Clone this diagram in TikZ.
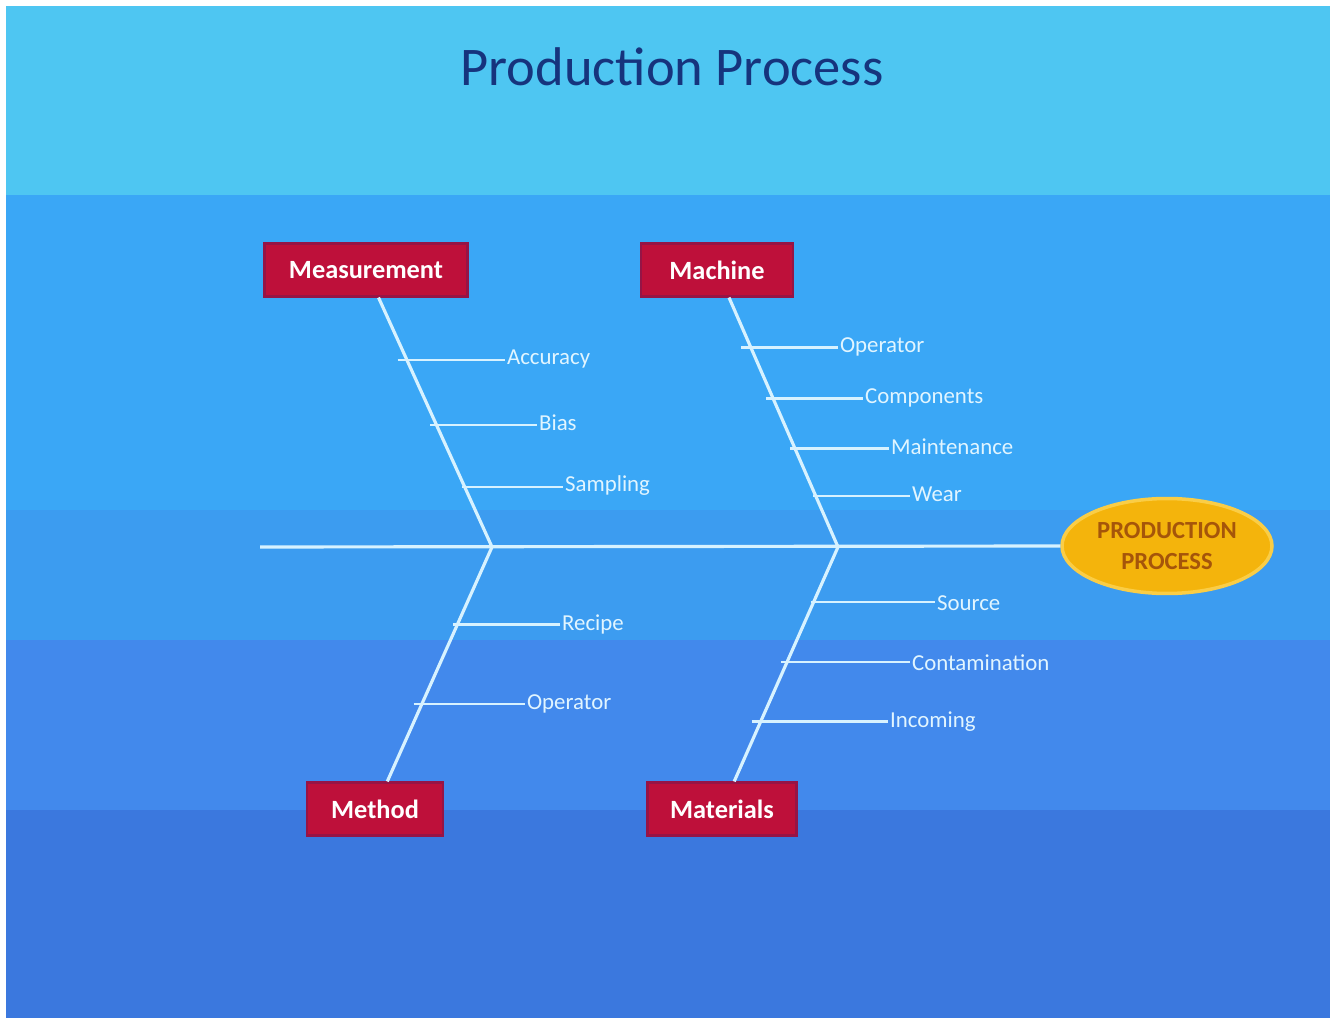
\documentclass[tikz,border=0pt]{standalone}
\usepackage{fontspec}
\setmainfont{Carlito}
\usetikzlibrary{shapes.geometric}
\definecolor{skytop}{RGB}{78,198,242}
\definecolor{bandA}{RGB}{58,167,246}
\definecolor{bandB}{RGB}{60,156,240}
\definecolor{bandC}{RGB}{66,137,236}
\definecolor{bandD}{RGB}{59,120,222}
\definecolor{causered}{RGB}{190,16,58}
\definecolor{causeedge}{RGB}{150,20,70}
\definecolor{boneline}{RGB}{215,242,255}
\definecolor{twigtext}{RGB}{225,245,255}
\definecolor{effectfill}{RGB}{244,180,12}
\definecolor{effectedge}{RGB}{250,205,70}
\definecolor{effecttext}{RGB}{165,85,10}
\definecolor{titleblue}{RGB}{22,52,125}

\begin{document}
\begin{tikzpicture}
  [x=0.02cm,y=-0.02cm,
   cause/.style={rectangle,fill=causered,draw=causeedge,line width=1.2pt,minimum height=1.06cm,text=white,font=\bfseries\fontsize{15}{17}\selectfont},
   twiglabel/.style={anchor=west,inner sep=1pt,text=twigtext,font=\fontsize{13}{15}\selectfont},
   bone/.style={draw=boneline,line width=1.8pt},
   twig/.style={draw=boneline,line width=1.4pt}]
 % page and background bands
 \fill[white] (0,0) rectangle (1336,1023);
 \useasboundingbox (0,0) rectangle (1336,1023);
 \fill[skytop] (6,6) rectangle (1330,195);
 \fill[bandA] (6,195) rectangle (1330,510);
 \fill[bandB] (6,510) rectangle (1330,640);
 \fill[bandC] (6,640) rectangle (1330,810);
 \fill[bandD] (6,810) rectangle (1330,1018);

 \node[text=titleblue,font=\fontsize{31}{34}\selectfont] (title) at (672,67) {Production Process};

 % causes and effect
 \node[cause,minimum width=4.06cm] (meas) at (366,270) {Measurement};
 \node[cause,minimum width=3.04cm] (mach) at (717,270) {Machine};
 \node[cause,minimum width=2.72cm] (meth) at (375,809) {Method};
 \node[cause,minimum width=2.98cm] (matl) at (722,809) {Materials};
 \node[ellipse,fill=effectfill,draw=effectedge,line width=2pt,minimum width=4.2cm,minimum height=1.9cm,inner sep=0pt,
       text=effecttext,align=center,font=\bfseries\fontsize{14}{17.5}\selectfont] (effect) at (1167,546) {PRODUCTION\\PROCESS};

 \coordinate (tail) at (260,547);
 \coordinate (j1) at (492,547);
 \coordinate (j2) at (838,547);

 \draw[bone] (tail) -- (effect.west);
 \foreach \from/\to in {meas/j1,meth/j1,mach/j2,matl/j2}
    \draw[bone] (\from) -- (\to);

 % points on the bones
 \path (meas.south) -- (j1) coordinate[pos=.25] (a1) coordinate[pos=.51] (a2) coordinate[pos=.76] (a3);
 \path (mach.south) -- (j2) coordinate[pos=.2] (b1) coordinate[pos=.405] (b2) coordinate[pos=.605] (b3) coordinate[pos=.795] (b4);
 \path (meth.north) -- (j1) coordinate[pos=.67] (c1) coordinate[pos=.33] (c2);
 \path (matl.north) -- (j2) coordinate[pos=.765] (d1) coordinate[pos=.51] (d2) coordinate[pos=.255] (d3);

 % sub-causes
 \node[twiglabel] (acc) at (505,359) {Accuracy};
 \node[twiglabel] (bias) at (537,423) {Bias};
 \node[twiglabel] (samp) at (563,486) {Sampling};
 \node[twiglabel] (oper) at (838,347) {Operator};
 \node[twiglabel] (comp) at (863,398) {Components};
 \node[twiglabel] (maint) at (889,447) {Maintenance};
 \node[twiglabel] (wear) at (910,494) {Wear};
 \node[twiglabel] (recipe) at (560,624) {Recipe};
 \node[twiglabel] (opm) at (525,704) {Operator};
 \node[twiglabel] (src) at (935,603) {Source};
 \node[twiglabel] (cont) at (910,663) {Contamination};
 \node[twiglabel] (inc) at (888,722) {Incoming};

 \foreach \from/\to in {a1/acc,a2/bias,a3/samp,b1/oper,b2/comp,b3/maint,b4/wear,c1/recipe,c2/opm,d1/src,d2/cont,d3/inc}
    \draw[twig] (\from) -- (\from -| \to.west);

\end{tikzpicture}
\end{document}
